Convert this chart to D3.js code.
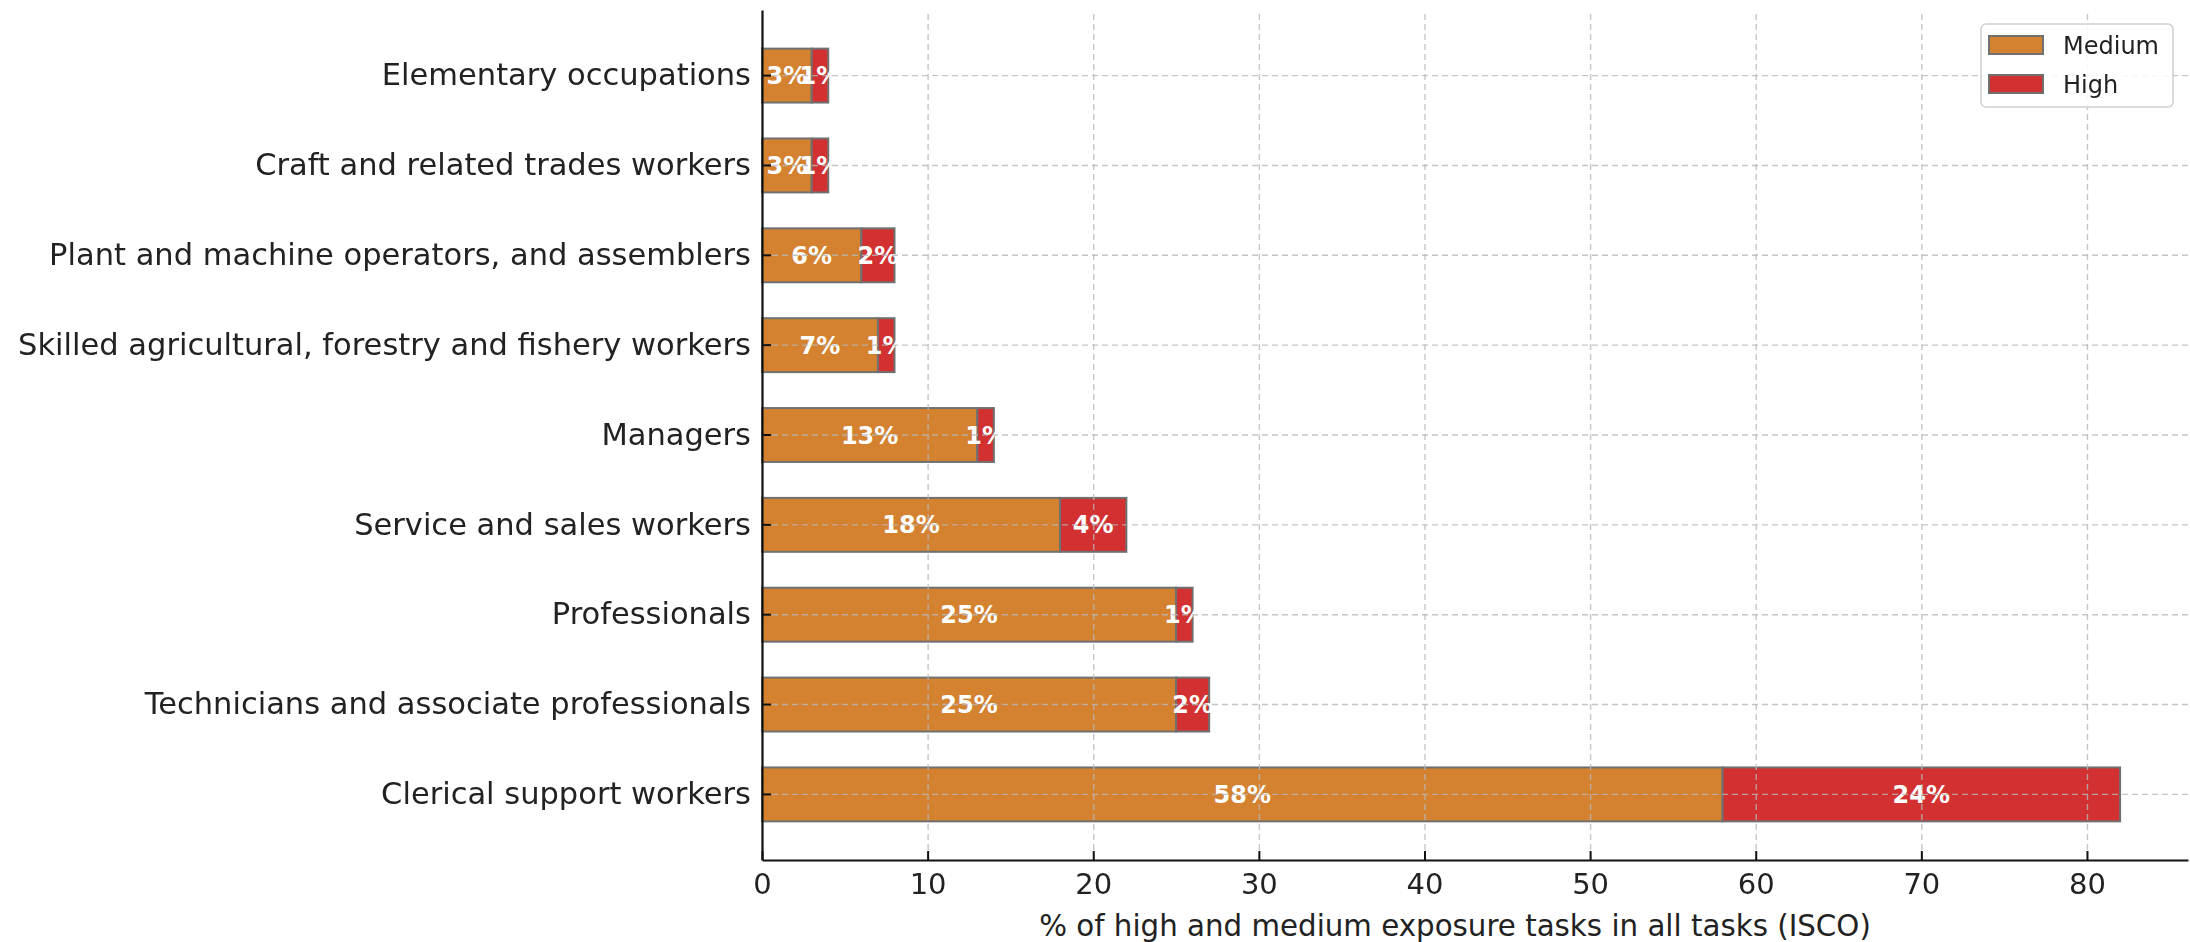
<!DOCTYPE html>
<html lang="en">
<head>
<meta charset="UTF-8">
<title>Exposure tasks by occupation</title>
<script src="https://d3js.org/d3.v7.min.js"></script>
<style>
    body { margin: 0; background: #fff; }
    text { font-family: "DejaVu Sans", sans-serif; }
    .grid line { stroke: #b8b8b8; stroke-dasharray: 6,4; stroke-width: 1.4; }
    .grid path { display: none; }
    .label { fill: #fff; font-weight: bold; font-size: 24px; text-anchor: middle; }
</style>
</head>
<body>
<div id="chart"></div>
<script>
// occupations, top to bottom
var categories = [
    "Elementary occupations",
    "Craft and related trades workers",
    "Plant and machine operators, and assemblers",
    "Skilled agricultural, forestry and fishery workers",
    "Managers",
    "Service and sales workers",
    "Professionals",
    "Technicians and associate professionals",
    "Clerical support workers"
];
var medium = [3, 3, 6, 7, 13, 18, 25, 25, 58];
var high = [1, 1, 2, 1, 1, 4, 1, 2, 24];
var seriesNames = ["Medium", "High"];
var xTicks = [0, 10, 20, 30, 40, 50, 60, 70, 80];

var width = 2190, height = 942;
var margin = { top: 10, right: 2, bottom: 82, left: 762 };

var svg = d3.select("#chart").append("svg")
    .attr("width", width)
    .attr("height", height);

var xMax = d3.max(medium.map(function (m, i) { return m + high[i]; })) * 1.05;
var x = d3.scaleLinear()
    .domain([0, xMax])
    .range([margin.left, width - margin.right]);

var y = d3.scaleBand()
    .domain(categories)
    .range([margin.top, height - margin.bottom])
    .paddingInner(0.4)
    .paddingOuter(0.43);

var color = d3.scaleOrdinal()
    .domain(seriesNames)
    .range(["#d4822f", "#d33131"]);

// stacked rows
var rows = categories.map(function (c, i) {
    return { cat: c, parts: [
        { key: "Medium", start: 0, value: medium[i] },
        { key: "High", start: medium[i], value: high[i] }
    ] };
});

var g = svg.append("g");
rows.forEach(function (r) {
    g.selectAll(null)
        .data(r.parts)
        .enter().append("rect")
        .attr("x", function (d) { return x(d.start); })
        .attr("y", y(r.cat))
        .attr("width", function (d) { return x(d.start + d.value) - x(d.start); })
        .attr("height", y.bandwidth())
        .attr("fill", function (d) { return color(d.key); })
        .attr("stroke", "#707070")
        .attr("stroke-width", 2);
});

// grid (drawn over bars like matplotlib)
svg.append("g")
    .attr("class", "grid")
    .attr("transform", "translate(0," + (height - margin.bottom) + ")")
    .call(d3.axisBottom(x).tickValues(xTicks).tickSize(-(height - margin.bottom - margin.top)).tickFormat(""))
    .attr("opacity", 0.8);
svg.append("g")
    .attr("class", "grid")
    .attr("transform", "translate(" + margin.left + ",0)")
    .call(d3.axisLeft(y).tickSize(-(width - margin.right - margin.left)).tickFormat(""))
    .attr("opacity", 0.8);

// value labels
rows.forEach(function (r) {
    g.selectAll(null)
        .data(r.parts)
        .enter().append("text")
        .attr("class", "label")
        .attr("x", function (d) { return x(d.start + d.value / 2); })
        .attr("y", y(r.cat) + y.bandwidth() / 2)
        .attr("dy", "0.36em")
        .text(function (d) { return d.value + "%"; });
});

// axes
var xAxis = svg.append("g")
    .attr("transform", "translate(0," + (height - margin.bottom) + ")")
    .call(d3.axisBottom(x).tickValues(xTicks).tickSize(-9).tickPadding(13).tickSizeOuter(0));
xAxis.selectAll("text").style("font-size", "29px").attr("fill", "#222");

var yAxis = svg.append("g")
    .attr("transform", "translate(" + margin.left + ",0)")
    .call(d3.axisLeft(y).tickSize(-9).tickPadding(11).tickSizeOuter(0));
yAxis.selectAll("text").style("font-size", "30.5px").attr("fill", "#222");

svg.selectAll(".domain").attr("stroke", "#111").attr("stroke-width", 2.2);
svg.selectAll(".tick line").filter(function () { return !this.closest(".grid"); })
    .attr("stroke", "#111").attr("stroke-width", 2);

// axis title
svg.append("text")
    .attr("x", (margin.left + width - margin.right) / 2 - 20)
    .attr("y", 936)
    .attr("text-anchor", "middle")
    .style("font-size", "29.3px")
    .attr("fill", "#222")
    .text("% of high and medium exposure tasks in all tasks (ISCO)");

// legend
var legend = svg.append("g").attr("transform", "translate(1981,24)");
legend.append("rect")
    .attr("width", 192).attr("height", 83)
    .attr("rx", 5)
    .attr("fill", "#fff").attr("fill-opacity", 0.85)
    .attr("stroke", "#d0d0d0").attr("stroke-width", 1.5);
seriesNames.forEach(function (s, i) {
    legend.append("rect")
        .attr("x", 8).attr("y", 12 + i * 39)
        .attr("width", 54).attr("height", 18)
        .attr("fill", color(s))
        .attr("stroke", "#707070").attr("stroke-width", 2);
    legend.append("text")
        .attr("x", 82).attr("y", 30 + i * 39)
        .style("font-size", "24px")
        .attr("fill", "#222")
        .text(s);
});
</script>
</body>
</html>
